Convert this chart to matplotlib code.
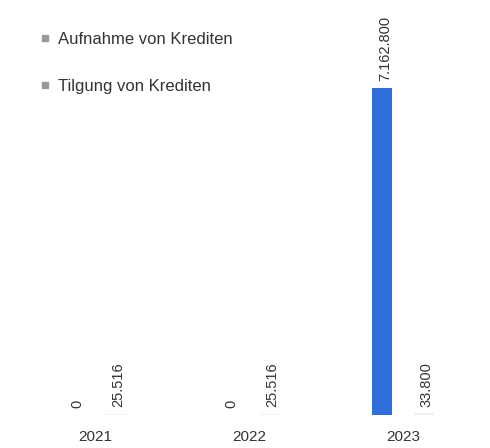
import matplotlib.pyplot as plt
import numpy as np
from matplotlib.lines import Line2D

plt.rcParams['font.family'] = ['Liberation Sans', 'DejaVu Sans']

# data
years = ['2021', '2022', '2023']
aufnahme = [0, 0, 7162800]
tilgung = [25516, 25516, 33800]
series_names = ['Aufnahme von Krediten', 'Tilgung von Krediten']

def fmt(v):
    return f'{v:,}'.replace(',', '.')

fig = plt.figure(figsize=(4.9, 4.48), dpi=100)
ax = fig.add_axes([0, 1 - 415/448, 1, 415/448])

x = np.arange(len(years))
w = 0.13
off = 0.135
b1 = ax.bar(x - off, aufnahme, w, color='#2f6fdc')
b2 = ax.bar(x + off, tilgung, w, color='#f0f0f4')

for bars, vals in ((b1, aufnahme), (b2, tilgung)):
    for b, v in zip(bars, vals):
        ax.annotate(fmt(v), (b.get_x() + b.get_width()/2, b.get_height()),
                    xytext=(2, 5), textcoords='offset points',
                    rotation=90, ha='center', va='bottom',
                    fontsize=10.5, color='#333333')

ax.set_xlim(-95/154, (490 - 95)/154)
ax.set_ylim(0, 7162800 * 415/327)
ax.set_xticks(x)
ax.set_xticklabels(years, fontsize=11, color='#333333')
ax.tick_params(axis='x', length=0, pad=11)
ax.set_yticks([])
for s in ax.spines.values():
    s.set_visible(False)

handles = [Line2D([], [], marker='s', linestyle='', markersize=4, color='#999999')
           for _ in series_names]
leg = ax.legend(handles, series_names, loc='upper left',
                bbox_to_anchor=(40/490, 1 - 32/415), frameon=False,
                fontsize=12, labelspacing=1.93, handlelength=0.6,
                handletextpad=0.5, borderaxespad=0, borderpad=0)
for t in leg.get_texts():
    t.set_color('#333333')

fig.savefig('out.png', dpi=100)
